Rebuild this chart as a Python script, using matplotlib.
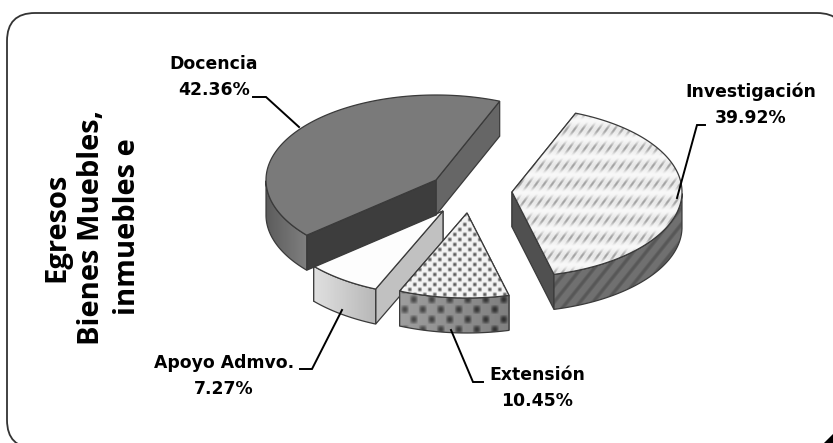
import numpy as np
import matplotlib
matplotlib.use('Agg')
import matplotlib.pyplot as plt
from matplotlib.patches import FancyBboxPatch, Polygon

names = ['Investigación', 'Extensión', 'Apoyo Admvo.', 'Docencia']
values = [39.92, 10.45, 7.27, 42.36]
apex_x = [512, 467, 443, 436]
apex_y = [192, 213, 211, 180]
label_x = [751, 537, 224, 214]
label_y = [105, 388, 376, 77]

title_lines = ['Egresos', 'Bienes Muebles,', 'inmuebles e']

start = 22
rx, ry = 170, 85
depth = 35

fig = plt.figure(figsize=(8.33, 4.43), dpi=100)
ax = fig.add_axes([0, 0, 1, 1])
ax.axis('off')

# frame runs past the right and bottom of the picture
ax.add_patch(FancyBboxPatch((35, 41), 782, 379, boxstyle='round,pad=28,rounding_size=28',
                            fc='white', ec='#333333', lw=1.3, zorder=1))
ax.add_patch(Polygon([(824, 443), (833, 434), (833, 443)], fc='black', ec='none', zorder=2))


def rim(ax0, ay0, t):
    t = np.radians(t)
    return ax0 + rx * np.sin(t), ay0 - ry * np.cos(t)


def fill(pts, fn, z):
    pts = np.array(pts)
    x0, y0 = pts.min(axis=0)
    x1, y1 = pts.max(axis=0)
    xx, yy = np.meshgrid(np.arange(x0, x1 + 1), np.arange(y0, y1 + 1))
    u = (xx - x0) / max(x1 - x0, 1)
    im = ax.imshow(fn(xx, yy, u), extent=(x0 - .5, x1 + .5, y1 + .5, y0 - .5), cmap='gray',
                   vmin=0, vmax=1, interpolation='bilinear', aspect='auto', zorder=z)
    edge = Polygon(pts, closed=True, fc='none', ec='#3a3a3a', lw=0.9, zorder=z + 0.1)
    ax.add_patch(edge)
    im.set_clip_path(edge)


def flat(g):
    return lambda x, y, u: np.full(x.shape, g)


def ramp(a, b):
    return lambda x, y, u: a + (b - a) * u


def inv_top(x, y, u):
    ticks = np.clip(np.sin(2 * np.pi * (x + 0.7 * y) / 8), 0, 1)
    bands = 0.5 + 0.5 * np.sin(2 * np.pi * y / 18)
    return 0.97 - 0.28 * ticks * bands - 0.06 * bands


def inv_side(x, y, u):
    return 0.44 - 0.1 * np.clip(np.sin(2 * np.pi * (x + 0.8 * y) / 13), 0, 1)


def ext_top(x, y, u):
    a = np.cos(2 * np.pi * x / 10) * np.cos(2 * np.pi * y / 10)
    return 0.95 - 0.6 * np.clip(a, 0, 1)


def ext_side(x, y, u):
    a = np.cos(2 * np.pi * x / 18) * np.cos(2 * np.pi * y / 20)
    return 0.62 - 0.12 * u - 0.32 * np.clip(a, 0, 1)


# top surface, rim band, then the two cut faces
top_fill = [inv_top, ext_top, flat(0.99), flat(0.48)]
band_fill = [inv_side, ext_side, ramp(0.88, 0.72), ramp(0.36, 0.5)]
face_first = [flat(0.35), flat(0.5), flat(0.76), flat(0.24)]
face_second = [flat(0.32), flat(0.5), flat(0.5), flat(0.4)]

order = [2, 3, 0, 1]
edges = start + np.concatenate([[0], np.cumsum(values)]) * 3.6
z = 3
for i in order:
    a, b = edges[i], edges[i + 1]
    cx, cy = apex_x[i], apex_y[i]
    ts = np.arange(a, b, 1.0).tolist() + [b]
    arc = [rim(cx, cy, t) for t in ts]
    faces = [(a, face_first[i]), (b, face_second[i])]
    # the cut face further back goes first
    faces.sort(key=lambda f: rim(cx, cy, f[0])[1])
    for t, fn in faces:
        px, py = rim(cx, cy, t)
        fill([(cx, cy), (px, py), (px, py + depth), (cx, cy + depth)], fn, z)
        z += 1
    front = [t for t in ts if np.cos(np.radians(t)) < 0]
    if len(front) > 1:
        up = [rim(cx, cy, t) for t in front]
        down = [(p[0], p[1] + depth) for p in up]
        fill(up + down[::-1], band_fill[i], z)
        z += 1
    fill([(cx, cy)] + arc, top_fill[i], z)
    z += 1

# leader lines
leader_x = [[705, 697, 677], [451, 473, 483], [342, 312, 300], [299, 266, 253]]
leader_y = [[125, 125, 198], [330, 382, 382], [310, 369, 369], [127, 97, 97]]
for lx, ly in zip(leader_x, leader_y):
    ax.plot(lx, ly, color='black', lw=1.4, zorder=50, solid_joinstyle='miter')

for n, v, x, y in zip(names, values, label_x, label_y):
    ax.text(x, y, f'{n}\n{v:.2f}%', ha='center', va='center', ma='center', fontsize=12.4,
            family='DejaVu Sans', fontweight='bold', linespacing=1.6, color='black', zorder=60)

ax.text(92, 227, '\n'.join(title_lines), rotation=90, ha='center', va='center', ma='center',
        fontsize=21, family='Open Sans', fontweight='bold', linespacing=1.3, color='black', zorder=60)

ax.set_xlim(0, 833)
ax.set_ylim(443, 0)
fig.savefig('out.png', dpi=100)
